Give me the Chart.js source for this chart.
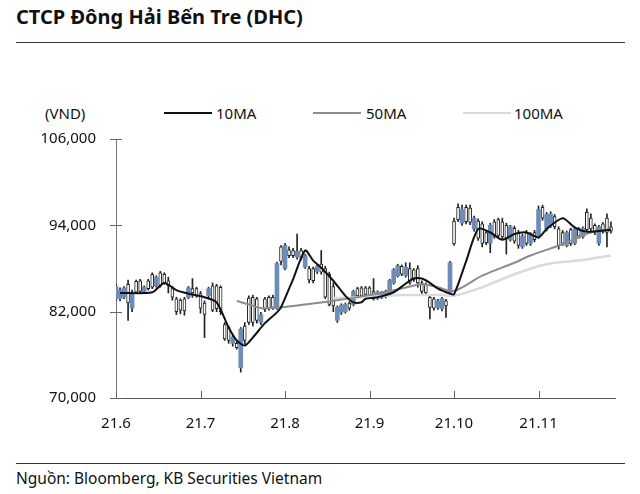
<!DOCTYPE html>
<html>
<head>
<meta charset="utf-8">
<script src="https://cdn.jsdelivr.net/npm/chart.js@4.4.0/dist/chart.umd.min.js"></script>
<style>
    body { margin: 0; width: 640px; height: 494px; background: #fff; position: relative; overflow: hidden;
           font-family: "Noto Sans", sans-serif; color: #111; }
    .title { position: absolute; left: 16px; top: 3px; font-size: 20px; font-weight: bold; }
    .rule { position: absolute; left: 16px; width: 609px; height: 1px; background: #333; }
    .legend { position: absolute; top: 103px; left: 0; width: 640px; height: 20px; font-size: 15px; }
    .legend span { position: absolute; top: 0; line-height: 20px; }
    .legend i { position: absolute; top: 9px; width: 48px; height: 2px; }
    .source { position: absolute; left: 16px; top: 467px; font-size: 15.5px; }
    #wrap { position: absolute; left: 0; top: 110px; width: 640px; height: 340px; }
</style>
</head>
<body>
<div class="title">CTCP Đông Hải Bến Tre (DHC)</div>
<div class="rule" style="top:42px"></div>
<div class="legend">
    <span style="left:45px">(VND)</span>
    <i style="left:164px;background:#111"></i><span style="left:216px">10MA</span>
    <i style="left:313px;background:#8c8c8c"></i><span style="left:366px">50MA</span>
    <i style="left:463px;background:#dadada"></i><span style="left:514px">100MA</span>
</div>
<div id="wrap"><canvas id="chart"></canvas></div>
<div class="rule" style="top:463px"></div>
<div class="source">Nguồn: Bloomberg, KB Securities Vietnam</div>

<script>
// trading days, index 0 = first session of June 2021
const monthLabels = ['21.6', '21.7', '21.8', '21.9', '21.10', '21.11'];
const monthStart = [0, 21, 42, 63, 84, 105];
const yTicks = [70000, 82000, 94000, 106000];

const opens = [
    83800, 83800, 84000, 85800, 82500, 86200, 86300, 84800, 86300, 87200,
    85600, 87400, 87200, 86300, 85200, 83800, 83600, 83800, 84000, 85200,
    85200, 84500, 83200, 84200, 85600, 85600, 85400, 80200, 79800, 77600,
    77600, 74200, 80000, 83900, 84000, 83800, 80500, 83800, 84000, 84000,
    82500, 91000, 88000, 90600, 90500, 89600, 90500, 88200, 88000, 88000,
    87600, 88600, 88000, 87200, 85500, 80800, 81900, 82000, 83200, 83000,
    85200, 85300, 85300, 85300, 84800, 83900, 84000, 84100, 84500, 86000,
    87000, 88300, 87000, 88000, 87800, 88000, 86000, 85800, 84000, 83800,
    82600, 82400, 83500, 84600, 94600, 96500, 94300, 96500, 96400, 93500,
    94600, 94200, 93000, 91500, 94500, 94800, 94500, 94000, 92000, 93600,
    93000, 91000, 93000, 91500, 93000, 92500, 96500, 93500, 94000, 95200,
    93500, 93000, 91200, 93400, 91500, 93500, 92400, 95800, 95000, 94000,
    91500, 94200, 95000, 93800
];
const highs = [
    85800, 85300, 85500, 86400, 85000, 86400, 86500, 85600, 86500, 87400,
    87000, 87600, 87400, 86800, 85500, 84000, 83800, 84000, 85500, 86600,
    85400, 84800, 83500, 85400, 86000, 85800, 85600, 80500, 80000, 78800,
    77900, 79800, 80500, 84200, 84300, 84000, 81900, 84000, 84200, 84300,
    88900, 91200, 91500, 91000, 90800, 92800, 90800, 90000, 88300, 88200,
    88500, 90500, 88300, 87500, 86000, 82800, 83100, 83200, 83400, 85000,
    85400, 85500, 85500, 85500, 86600, 84900, 84800, 85000, 86500, 88000,
    88600, 88500, 88800, 88800, 88000, 88400, 86300, 86000, 84300, 84000,
    83700, 84000, 83700, 89000, 95000, 97000, 96800, 96800, 96800, 95300,
    94900, 94500, 93300, 94300, 94800, 95000, 95000, 94300, 94000, 93900,
    93300, 92800, 93300, 93000, 93300, 96700, 96800, 95800, 95900, 95500,
    93800, 93300, 93200, 93600, 93700, 93700, 93800, 96300, 95600, 94200,
    94000, 94400, 95600, 94500
];
const lows = [
    83600, 83500, 83800, 80800, 82000, 84500, 84600, 84600, 85000, 85200,
    85400, 85400, 85800, 84600, 83600, 81600, 81700, 81500, 83800, 84000,
    84000, 81800, 78400, 83800, 82000, 82000, 81600, 78000, 77600, 77200,
    76800, 73600, 77500, 80200, 80000, 80400, 80200, 82000, 82200, 82300,
    82300, 88500, 87800, 89500, 89500, 89300, 89200, 88000, 86000, 86000,
    87300, 87200, 83800, 82800, 82000, 80500, 81600, 81800, 82200, 82800,
    84000, 84000, 84100, 84000, 83600, 83700, 83800, 83900, 84300, 85800,
    86800, 87000, 86800, 85800, 86200, 85400, 84500, 84300, 81000, 82200,
    82300, 82100, 81200, 84400, 91200, 94500, 94000, 94200, 94100, 93200,
    91900, 91000, 91300, 90200, 92200, 92300, 92100, 90000, 91800, 91500,
    90800, 90800, 91200, 91200, 91700, 92200, 94700, 93200, 93700, 93500,
    90700, 91200, 91000, 91200, 91300, 92200, 92200, 93100, 93200, 92700,
    91200, 92900, 91000, 92900
];
const closes = [
    85500, 85000, 85300, 83200, 84500, 84700, 84800, 85400, 85200, 85400,
    86800, 85600, 86000, 85600, 84000, 82000, 82200, 82100, 85300, 84600,
    84200, 82500, 81600, 85200, 82200, 82400, 82000, 78200, 78000, 78500,
    77000, 79600, 78000, 80500, 80500, 80800, 81600, 82300, 82500, 82600,
    88700, 89000, 91200, 89800, 89800, 90400, 89500, 89800, 86400, 86300,
    88300, 87500, 84000, 83000, 82800, 82600, 82900, 83000, 82500, 84800,
    84200, 84200, 84400, 84200, 83800, 84700, 84600, 84800, 86300, 87800,
    88400, 87200, 88200, 86000, 86500, 86000, 84800, 84600, 82600, 82500,
    83500, 83800, 82800, 88800, 91400, 94800, 96200, 94500, 94400, 95000,
    92200, 91500, 91600, 94000, 92500, 92600, 92400, 92200, 93800, 91800,
    91200, 92500, 91500, 92800, 92000, 96200, 95000, 95500, 95600, 93800,
    91200, 91500, 93000, 91500, 93500, 92500, 93600, 93400, 93500, 93000,
    93800, 93200, 93000, 93200
];

// moving averages at selected sessions
const ma10Days = [1, 9, 12, 15, 18, 22, 25, 28, 30, 32, 34, 37, 40, 41, 44, 47, 49, 51, 54, 57, 59, 61, 62, 65,
    69, 72, 74, 76, 78, 80, 83, 84, 87, 90, 93, 96, 99, 102, 105, 107, 111, 114, 117, 123];
const ma10 = [84600, 84700, 86000, 85000, 84500, 84000, 83300, 79800, 78000, 77300, 78400, 80400, 81900, 82600,
    86500, 90500, 89100, 88100, 86300, 84200, 83300, 83300, 83800, 84000, 84700, 85900, 86600, 86600, 86000,
    85200, 84500, 84400, 89000, 93500, 93000, 92000, 92800, 93000, 92300, 93500, 95000, 93700, 93100, 93400];
const ma50Days = [30, 33, 36, 41, 47, 55, 63, 71, 76, 80, 84, 91, 99, 103, 111, 118, 123];
const ma50 = [83500, 83000, 82500, 82600, 83000, 83600, 84300, 85200, 85800, 85400, 84900, 87000, 88800, 89800,
    91400, 93000, 93500];
const ma100Days = [54, 61, 71, 81, 84, 91, 99, 107, 115, 123];
const ma100 = [83900, 84000, 84300, 84300, 84200, 85400, 87200, 88600, 89100, 89800];

const BLUE = '#6d8db8';

const wicks = lows.map((l, i) => ({ x: i, y: [l, highs[i]] }));
const upBodies = [];
const downBodies = [];
opens.forEach((o, i) => {
    const c = closes[i];
    if (c > o) upBodies.push({ x: i, y: [o, c] });
    else downBodies.push({ x: i, y: [c, o] });
});
const toPoints = (days, vals) => days.map((d, k) => ({ x: d, y: vals[k] }));

// small tick marks: crossing the y axis, pointing up from the x axis
const axisTicks = {
    id: 'axisTicks',
    afterDraw(chart) {
        const { ctx, scales: { x, y } } = chart;
        ctx.save();
        ctx.strokeStyle = '#666';
        ctx.lineWidth = 1;
        ctx.beginPath();
        y.ticks.forEach(t => {
            const py = Math.round(y.getPixelForValue(t.value)) + 0.5;
            ctx.moveTo(x.left - 6, py); ctx.lineTo(x.left + 6, py);
        });
        x.ticks.forEach(t => {
            const px = Math.round(x.getPixelForValue(t.value)) + 0.5;
            ctx.moveTo(px, y.bottom); ctx.lineTo(px, y.bottom - 7);
        });
        ctx.stroke();
        ctx.restore();
    }
};

Chart.defaults.font.family = "'Noto Sans', sans-serif";
Chart.defaults.font.size = 15;
Chart.defaults.color = '#111';

new Chart(document.getElementById('chart'), {
    type: 'bar',
    data: {
        datasets: [
            { type: 'line', label: '10MA', data: toPoints(ma10Days, ma10), borderColor: '#111', borderWidth: 2, pointRadius: 0, tension: 0.25, order: 0 },
            { type: 'line', label: '50MA', data: toPoints(ma50Days, ma50), borderColor: '#8c8c8c', borderWidth: 2, pointRadius: 0, tension: 0.35, order: 0 },
            { type: 'line', label: '100MA', data: toPoints(ma100Days, ma100), borderColor: '#dadada', borderWidth: 2.5, pointRadius: 0, tension: 0.35, order: 0 },
            { label: 'up', data: upBodies, backgroundColor: BLUE, barThickness: 4, grouped: false, order: 1 },
            { label: 'down', data: downBodies, backgroundColor: '#fff', borderColor: '#222', borderWidth: 1, borderSkipped: false, barThickness: 3, grouped: false, order: 1 },
            { label: 'range', data: wicks, backgroundColor: '#222', barThickness: 1, grouped: false, order: 2 }
        ]
    },
    options: {
        responsive: true,
        maintainAspectRatio: false,
        animation: false,
        layout: { padding: { top: 18, left: 30, right: 25, bottom: 17 } },
        plugins: { legend: { display: false }, tooltip: { enabled: false } },
        scales: {
            x: {
                type: 'linear', min: 0, max: 124, offset: false,
                afterBuildTicks: s => { s.ticks = monthStart.map(v => ({ value: v })); },
                afterFit: s => { s.height = 35; },
                grid: { display: false, drawTicks: false },
                border: { display: true, color: '#555', width: 1 },
                ticks: { padding: 17, maxRotation: 0, autoSkip: false,
                         callback: v => monthLabels[monthStart.indexOf(v)] }
            },
            y: {
                min: 70000, max: 106000,
                afterBuildTicks: s => { s.ticks = yTicks.map(v => ({ value: v })); },
                afterFit: s => { s.width = 86; },
                grid: { display: false, drawTicks: false },
                border: { display: true, color: '#777', width: 1 },
                ticks: { padding: 20, callback: v => v.toLocaleString('en-US') }
            }
        }
    },
    plugins: [axisTicks]
});
</script>
</body>
</html>
